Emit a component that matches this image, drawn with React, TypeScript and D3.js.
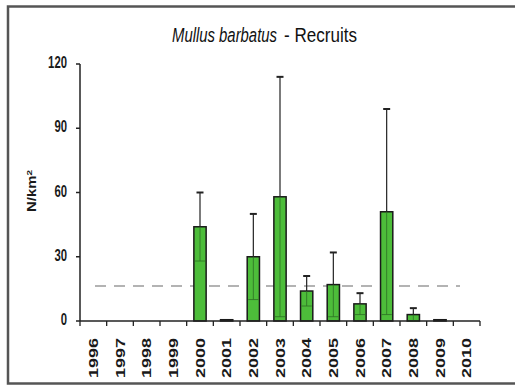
import * as d3 from "d3";
import React from "react";

const years = ["1996", "1997", "1998", "1999", "2000", "2001", "2002", "2003", "2004", "2005", "2006", "2007", "2008", "2009", "2010"];
const means = [0, 0, 0, 0, 44, 0.6, 30, 58, 14, 17, 8, 51, 3, 0.6, 0];
const sds = [0, 0, 0, 0, 16, 0, 20, 56, 7, 15, 5, 48, 3, 0, 0];
const yTicks = [0, 30, 60, 90, 120];
const meanLine = 16.3;

const font = "'Liberation Sans', Arial, sans-serif";

const App: React.FC = () => {
  const margin = { left: 80, top: 64, right: 35, bottom: 65 };
  const width = 515;
  const height = 386;

  const x = d3.scaleBand().domain(years).range([margin.left, width - margin.right]).paddingInner(0).paddingOuter(0);
  const y = d3.scaleLinear().domain([0, 120]).range([height - margin.bottom, margin.top]);
  const barW = x.bandwidth() * 0.46;
  const green = "#4dbd3a";

  return (
    <svg width={width} height={height} style={{ position: "absolute", left: 0, top: 0 }}>
      <rect x={0} y={0} width={width} height={height} fill="#fff" />
      {/* frame */}
      <rect x={8} y={6.5} width={520} height={377} fill="none" stroke="#555" strokeWidth={2.5} />

      {/* title, two parts, stretched vertically like the source image */}
      <g transform="translate(0,42) scale(1,1.38)">
        <text x={172} y={0} fontFamily={font} fontSize={14.5} fontStyle="italic" fill="#111" textLength={105} lengthAdjust="spacingAndGlyphs">
          Mullus barbatus
        </text>
        <text x={284} y={0} fontFamily={font} fontSize={14.5} fill="#111" textLength={73} lengthAdjust="spacingAndGlyphs">
          - Recruits
        </text>
      </g>

      {/* y label */}
      <text transform="translate(35.5,212) rotate(-90)" fontFamily={font} fontSize={12} fontWeight="bold" fill="#1a1a1a" textLength={42} lengthAdjust="spacingAndGlyphs">
        N/km<tspan dy={-4} fontSize={8}>2</tspan>
      </text>

      {/* dashed mean line */}
      <line x1={95} x2={460} y1={y(meanLine)} y2={y(meanLine)} stroke="#9a9a9a" strokeWidth={1.5} strokeDasharray="11 8" />

      {/* bars */}
      {years.map((yr, i) => {
        const m = means[i];
        if (m <= 0) return null;
        const cx = x(yr)! + x.bandwidth() / 2;
        const top = y(m);
        const sd = sds[i];
        const lo = Math.max(0, m - sd);
        const tiny = m < 1;
        return (
          <g key={yr}>
            {sd > 0 && (
              <>
                <line x1={cx} x2={cx} y1={y(m + sd)} y2={top} stroke="#222" strokeWidth={1.2} />
                <line x1={cx - 3.5} x2={cx + 3.5} y1={y(m + sd)} y2={y(m + sd)} stroke="#222" strokeWidth={2} />
              </>
            )}
            <rect
              x={cx - barW / 2}
              y={top}
              width={barW}
              height={y(0) - top}
              fill={tiny ? "#222" : green}
              stroke="#1a1a1a"
              strokeWidth={1.5}
            />
            {sd > 0 && (
              <>
                <line x1={cx} x2={cx} y1={top} y2={y(lo)} stroke="#2d6e25" strokeWidth={0.8} />
                <line x1={cx - barW / 2 + 1} x2={cx + barW / 2 - 1} y1={y(lo)} y2={y(lo)} stroke="#2d6e25" strokeWidth={0.8} />
              </>
            )}
          </g>
        );
      })}

      {/* y axis */}
      <line x1={margin.left} x2={margin.left} y1={y(120)} y2={y(0)} stroke="#222" strokeWidth={1.5} />
      {yTicks.map((t) => (
        <g key={t}>
          <line x1={margin.left - 4} x2={margin.left} y1={y(t)} y2={y(t)} stroke="#222" strokeWidth={1.5} />
          <text
            x={67}
            y={y(t) + 4}
            textAnchor="end"
            fontFamily={font}
            fontSize={17}
            fontWeight="bold"
            fill="#1a1a1a"
            textLength={String(t).length * 6.3}
            lengthAdjust="spacingAndGlyphs"
          >
            {t}
          </text>
        </g>
      ))}

      {/* x axis */}
      <line x1={margin.left} x2={width - margin.right} y1={y(0)} y2={y(0)} stroke="#222" strokeWidth={1.5} />
      {[...years.map((yr) => x(yr)!), width - margin.right].map((px, i) => (
        <line key={i} x1={px} x2={px} y1={y(0)} y2={y(0) + 5} stroke="#222" strokeWidth={1.3} />
      ))}
      {years.map((yr) => (
        <text
          key={yr}
          transform={`translate(${x(yr)! + x.bandwidth() / 2 + 4.5},${y(0) + 17}) rotate(-90)`}
          textAnchor="end"
          fontFamily={font}
          fontSize={12.5}
          fontWeight="bold"
          fill="#1a1a1a"
          textLength={40}
          lengthAdjust="spacingAndGlyphs"
        >
          {yr}
        </text>
      ))}
    </svg>
  );
};

export default App;
